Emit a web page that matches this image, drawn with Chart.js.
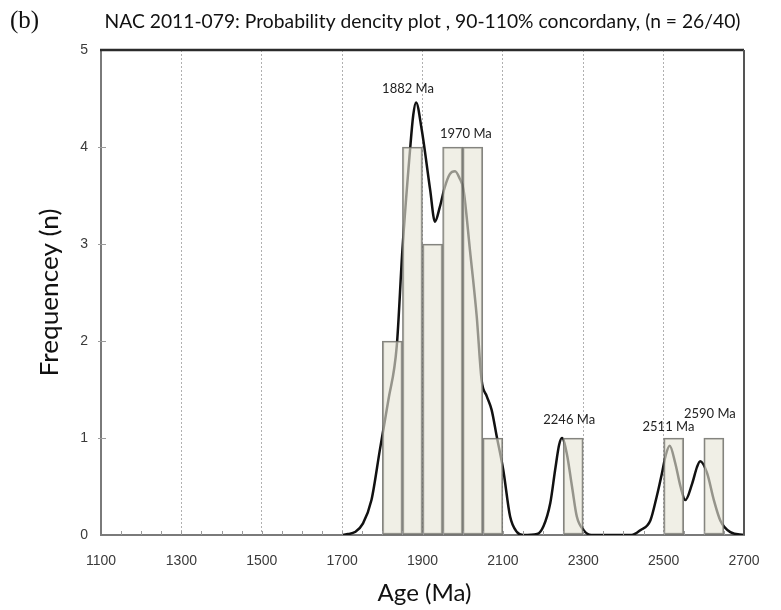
<!DOCTYPE html>
<html>
<head>
<meta charset="utf-8">
<script src="https://cdn.jsdelivr.net/npm/chart.js@4.4.1/dist/chart.umd.min.js"></script>
<style>
html, body { margin:0; padding:0; background:#fff; }
#contenedor { width:781px; height:610px; }
</style>
</head>
<body>
<div id="contenedor"><canvas id="graficoEdades"></canvas></div>
<script>

// histograma (intervalos de 50 Ma)
const inicioIntervalos = [1800, 1850, 1900, 1950, 2000, 2050, 2250, 2500, 2600];
const frecuencias      = [2, 4, 3, 4, 4, 1, 1, 1, 1];
const anchoIntervalo   = 50;

// curva de densidad de probabilidad
const curvaEdad = [
    1700, 1715, 1732, 1752, 1773, 1794, 1815, 1836, 1850, 1869, 1877, 1884,
    1898, 1919, 1931, 1943, 1955, 1968, 1981, 1992, 2002, 2018, 2035, 2047,
    2060, 2072, 2085, 2101, 2118, 2135, 2150, 2185, 2201, 2218, 2230, 2240,
    2247, 2259, 2272, 2284, 2301, 2320, 2420, 2442, 2467, 2483, 2496, 2505,
    2515, 2529, 2542, 2554, 2571, 2583, 2591, 2608, 2625, 2641, 2666, 2700
];
const curvaValor = [
    0, 0.01, 0.03, 0.12, 0.36, 0.88, 1.39, 1.95, 2.94, 3.97, 4.33, 4.46,
    4.18, 3.56, 3.23, 3.38, 3.58, 3.72, 3.75, 3.68, 3.56, 2.94, 2.25, 1.60,
    1.43, 1.29, 1.01, 0.67, 0.19, 0.03, 0, 0.01, 0.09, 0.33, 0.67, 0.93,
    1.00, 0.84, 0.50, 0.19, 0.05, 0, 0, 0.05, 0.15, 0.40, 0.64, 0.82,
    0.92, 0.74, 0.50, 0.36, 0.53, 0.70, 0.76, 0.64, 0.36, 0.15, 0.03, 0
];

// edades de los picos
const picos = [1882, 1970, 2246, 2511, 2590];

const etiquetasX = [1100, 1300, 1500, 1700, 1900, 2100, 2300, 2500, 2700];
const etiquetasY = [0, 1, 2, 3, 4, 5];

const titulo = "NAC 2011-079: Probability dencity plot , 90-110% concordany, (n = 26/40)";


// donde van los rotulos de los picos (en unidades del grafico)
const posRotulos = [
    { x: 1864, y: 4.60 },
    { x: 2008, y: 4.14 },
    { x: 2265, y: 1.19 },
    { x: 2512, y: 1.12 },
    { x: 2615, y: 1.25 }
];

// escribe un texto ajustado a un ancho dado
function textoAjustado(ctx, texto, x, y, ancho){
    const w = ctx.measureText(texto).width;
    ctx.save();
    ctx.translate(x, y);
    ctx.scale(ancho / w, 1);
    ctx.fillText(texto, 0, 0);
    ctx.restore();
}

const textos = {

    id: "textos",

    afterDatasetsDraw(chart){

        const ctx = chart.ctx;
        const area = chart.chartArea;
        const ejeX = chart.scales.x;
        const ejeY = chart.scales.y;
        const centroX = (area.left + area.right) / 2;

        ctx.save();

        // marcas menores hacia adentro
        ctx.strokeStyle = "#9a9a9a";
        ctx.lineWidth = 1;
        ctx.beginPath();
        for (let v = 1150; v < 2700; v += 50) {
            const px = Math.round(ejeX.getPixelForValue(v)) + 0.5;
            ctx.moveTo(px, area.bottom);
            ctx.lineTo(px, area.bottom - 4);
        }
        etiquetasY.forEach(v => {
            if (v === 0 || v === 5) return;
            const py = Math.round(ejeY.getPixelForValue(v)) + 0.5;
            ctx.moveTo(area.left - 3, py);
            ctx.lineTo(area.left + 5, py);
        });
        ctx.stroke();

        // marco superior y derecho
        ctx.strokeStyle = "#2b2b2b";
        ctx.lineWidth = 2.5;
        ctx.beginPath();
        ctx.moveTo(area.left - 1, area.top);
        ctx.lineTo(area.right, area.top);
        ctx.stroke();

        ctx.strokeStyle = "#555";
        ctx.lineWidth = 2;
        ctx.beginPath();
        ctx.moveTo(area.right, area.top);
        ctx.lineTo(area.right, area.bottom);
        ctx.stroke();

        // rotulos de picos
        ctx.fillStyle = "#222";
        ctx.font = "13px Lato";
        ctx.textAlign = "center";
        ctx.textBaseline = "middle";
        picos.forEach((p, i) => {
            ctx.fillText(
                `${p} Ma`,
                ejeX.getPixelForValue(posRotulos[i].x),
                ejeY.getPixelForValue(posRotulos[i].y)
            );
        });

        // titulo
        ctx.fillStyle = "#111";
        ctx.font = "19px Lato";
        textoAjustado(ctx, titulo, centroX, 22, 636);

        ctx.font = "25px 'Liberation Serif'";
        ctx.textAlign = "left";
        ctx.fillText("(b)", 10, 21);

        // titulos de ejes
        ctx.fillStyle = "#111";
        ctx.textAlign = "center";
        ctx.font = "24px Lato";
        textoAjustado(ctx, "Age (Ma)", centroX + 2, area.bottom + 58, 94);

        ctx.translate(50, (area.top + area.bottom) / 2);
        ctx.rotate(-Math.PI / 2);
        ctx.font = "25px Lato";
        textoAjustado(ctx, "Frequencey (n)", 0, 0, 168);

        ctx.restore();

    }

};


new Chart(

    document.getElementById("graficoEdades"),

    {

        data: {

            datasets: [

                {
                    type: "bar",
                    label: "Frequency",
                    data: inicioIntervalos.map((x0, i) => ({
                        x: x0 + anchoIntervalo / 2,
                        y: frecuencias[i]
                    })),
                    backgroundColor: "rgba(231,229,214,0.62)",
                    borderColor: "rgba(110,110,105,0.85)",
                    borderWidth: 1.5,
                    borderSkipped: false,
                    barPercentage: 1,
                    categoryPercentage: 1,
                    order: 0
                },

                {
                    type: "line",
                    label: "Probability density",
                    data: curvaEdad.map((e, i) => ({
                        x: e,
                        y: curvaValor[i]
                    })),
                    borderColor: "#111",
                    borderWidth: 2.5,
                    pointRadius: 0,
                    fill: false,
                    cubicInterpolationMode: "monotone",
                    order: 1
                }

            ]

        },

        options: {

            responsive: true,
            maintainAspectRatio: false,
            animation: false,

            layout: {
                padding: { left: 0, right: 37, top: 50, bottom: 0 }
            },

            plugins: {
                legend: { display: false },
                tooltip: { enabled: false }
            },

            scales: {

                x: {
                    type: "linear",
                    min: 1100,
                    max: 2700,
                    offset: false,
                    afterFit: s => { s.height = 75; },
                    ticks: {
                        stepSize: 50,
                        autoSkip: false,
                        maxRotation: 0,
                        padding: 18,
                        color: "#3a3a3a",
                        font: { family: "'Liberation Sans'", size: 14 },
                        callback: v => etiquetasX.includes(v) ? String(v) : ""
                    },
                    grid: {
                        offset: false,
                        drawTicks: false,
                        lineWidth: 1,
                        color: c => {
                            const v = c.tick ? c.tick.value : 0;
                            return (etiquetasX.includes(v) && v !== 1100 && v !== 2700)
                                ? "#b0b0b0" : "rgba(0,0,0,0)";
                        }
                    },
                    border: { color: "#7a7a7a", width: 2, dash: [2, 2] }
                },

                y: {
                    min: 0,
                    max: 5,
                    afterFit: s => { s.width = 101; },
                    ticks: {
                        stepSize: 1,
                        padding: 13,
                        color: "#3a3a3a",
                        font: { family: "'Liberation Sans'", size: 14 }
                    },
                    grid: {
                        offset: false,
                        drawTicks: false,
                        color: "rgba(0,0,0,0)"
                    },
                    border: { color: "#7a7a7a", width: 2 }
                }

            }

        },

        plugins: [textos]

    }

);

</script>
</body>
</html>
